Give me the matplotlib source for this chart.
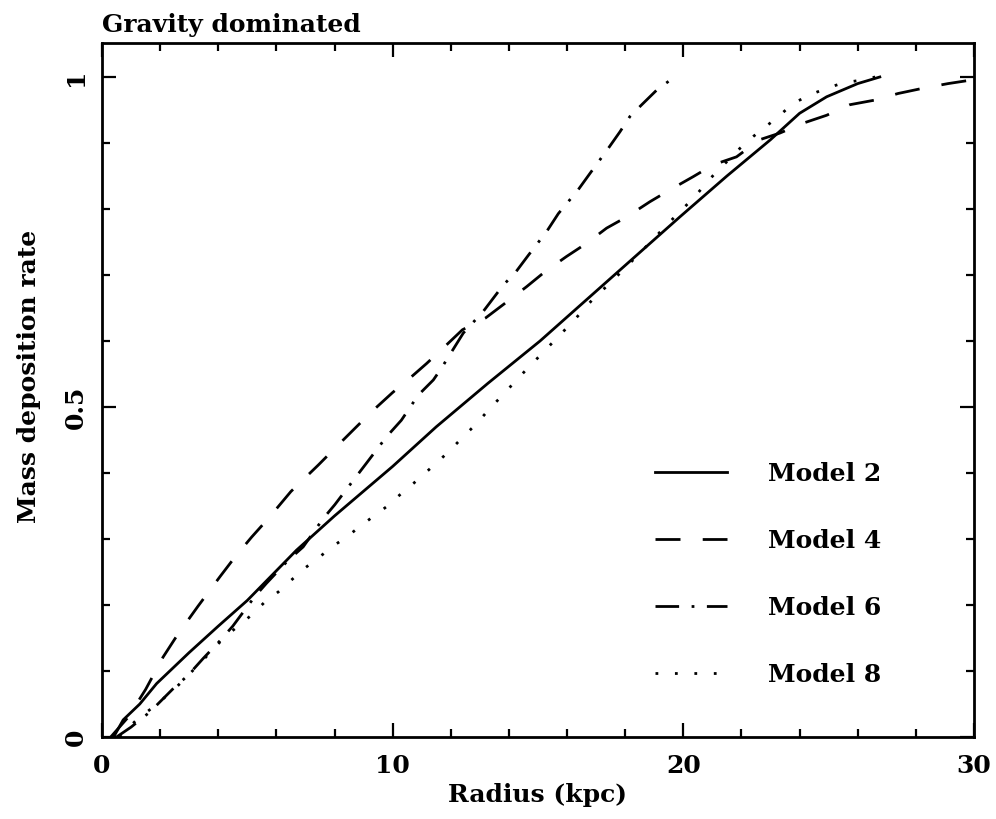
import numpy as np
import matplotlib
matplotlib.use("Agg")
import matplotlib.pyplot as plt
from matplotlib.ticker import MultipleLocator

plt.rcParams['font.family'] = ['DejaVu Serif']
plt.rcParams['font.weight'] = 'bold'
plt.rcParams['axes.labelweight'] = 'bold'
plt.rcParams['font.size'] = 18

# cumulative mass deposition rate against radius (kpc)
x2 = [0.4, 0.73, 1.3, 1.88, 3.0, 4.0, 5.0, 6.69, 8.0, 10.0, 11.5, 13.28, 15.07,
      17.5, 19.88, 21.5, 23.0, 24.0, 24.93, 26.0, 26.76]
y2 = [0.0, 0.026, 0.05, 0.081, 0.128, 0.168, 0.207, 0.283, 0.335, 0.41, 0.47,
      0.536, 0.60, 0.695, 0.788, 0.85, 0.905, 0.945, 0.970, 0.99, 1.0]

x4 = [0.3, 0.9, 1.5, 2.1, 2.6, 3.3, 4.06, 4.58, 5.15, 5.72, 6.5, 7.44, 8.07,
      8.64, 9.28, 10.0, 10.6, 11.17, 11.85, 12.4, 13.2, 13.86, 14.6, 15.24,
      15.98, 16.67, 17.36, 18.05, 18.85, 19.54, 20.34, 21.03, 21.83, 22.63,
      23.32, 24.12, 24.93, 25.73, 26.59, 27.39, 28.25, 29.11, 30.0]
y4 = [0.0, 0.03, 0.072, 0.121, 0.155, 0.198, 0.243, 0.273, 0.303, 0.331, 0.372,
      0.412, 0.44, 0.465, 0.493, 0.522, 0.544, 0.566, 0.594, 0.617, 0.635,
      0.657, 0.682, 0.705, 0.728, 0.748, 0.771, 0.788, 0.811, 0.829, 0.849,
      0.867, 0.879, 0.905, 0.915, 0.93, 0.942, 0.958, 0.965, 0.975, 0.983,
      0.99, 0.996]

x6 = [0.5, 1.0, 1.65, 2.17, 2.51, 2.95, 3.48, 4.0, 4.5, 5.26, 5.66, 6.41, 6.92,
      7.61, 8.01, 8.7, 9.1, 9.79, 10.3, 10.88, 11.4, 11.68, 12.43, 13.12,
      13.81, 14.21, 14.67, 15.3, 15.7, 16.38, 16.79, 17.42, 17.82, 18.16,
      18.57, 19.08, 19.54]
y6 = [0.0, 0.015, 0.038, 0.061, 0.076, 0.093, 0.119, 0.143, 0.168, 0.213,
      0.233, 0.268, 0.288, 0.331, 0.352, 0.392, 0.415, 0.455, 0.48, 0.518,
      0.541, 0.559, 0.612, 0.645, 0.685, 0.703, 0.73, 0.766, 0.793, 0.829,
      0.854, 0.892, 0.917, 0.94, 0.958, 0.98, 0.995]

x8 = [0.6, 1.19, 1.9, 2.57, 3.4, 4.23, 4.8, 5.2, 5.61, 6.07, 6.52, 6.98, 7.44,
      7.9, 8.42, 8.87, 9.33, 9.79, 10.25, 10.71, 11.17, 11.63, 12.03, 12.43,
      12.89, 13.29, 14.5, 15.75, 16.15, 16.56, 16.96, 17.42, 18.5, 19.48,
      19.88, 20.34, 20.69, 21.09, 21.55, 21.95, 22.41, 22.87, 23.32, 23.78,
      24.36, 24.93, 25.5, 26.08, 26.6]
y8 = [0.0, 0.026, 0.05, 0.076, 0.113, 0.152, 0.172, 0.187, 0.205, 0.22, 0.238,
      0.256, 0.271, 0.288, 0.303, 0.319, 0.334, 0.349, 0.367, 0.384, 0.402,
      0.42, 0.437, 0.455, 0.475, 0.495, 0.552, 0.609, 0.627, 0.647, 0.667,
      0.685, 0.733, 0.778, 0.796, 0.816, 0.834, 0.854, 0.874, 0.892, 0.91,
      0.926, 0.942, 0.96, 0.973, 0.983, 0.991, 0.995, 1.0]

labels = ['Model 2', 'Model 4', 'Model 6', 'Model 8']
styles = ['-', (0, (9, 8)), (0, (8.5, 4.5, 1, 4.5)), (0, (1, 6))]

fig = plt.figure(figsize=(9.96, 8.19), dpi=100)
ax = fig.add_axes([0.1024, 0.1001, 0.8755, 0.8474])

for xs, ys, ls, lab in zip([x2, x4, x6, x8], [y2, y4, y6, y8], styles, labels):
    ax.plot(xs, ys, color='black', lw=2.0, linestyle=ls, label=lab)

ax.set_xlim(0, 30)
ax.set_ylim(0, 1.0515)
ax.xaxis.set_minor_locator(MultipleLocator(2))
ax.yaxis.set_minor_locator(MultipleLocator(0.1))
ax.set_yticks([0, 0.5, 1])
ax.set_yticklabels(['0', '0.5', '1'])
ax.set_xticks([0, 10, 20, 30])
ax.set_xticklabels(['0', '10', '20', '30'])
plt.setp(ax.get_yticklabels(), rotation=90, va='center')

ax.tick_params(which='both', direction='in', top=True, right=True, width=1.6)
ax.tick_params(which='major', length=10)
ax.tick_params(axis='x', which='major', pad=12)
ax.tick_params(axis='y', which='major', pad=10)
ax.tick_params(which='minor', length=6)
for sp in ax.spines.values():
    sp.set_linewidth(2.0)

ax.set_xlabel('Radius (kpc)', labelpad=4)
ax.set_ylabel('Mass deposition rate')
ax.yaxis.set_label_coords(-0.07, 0.52)
ax.set_title('Gravity dominated', loc='left', pad=8, fontsize=18, fontweight='bold')

ax.legend(loc='upper left', bbox_to_anchor=(0.634, 0.396), frameon=False,
          handlelength=2.9, handletextpad=1.64, labelspacing=1.72,
          borderpad=0, borderaxespad=0)

fig.savefig('out.png', dpi=100)
